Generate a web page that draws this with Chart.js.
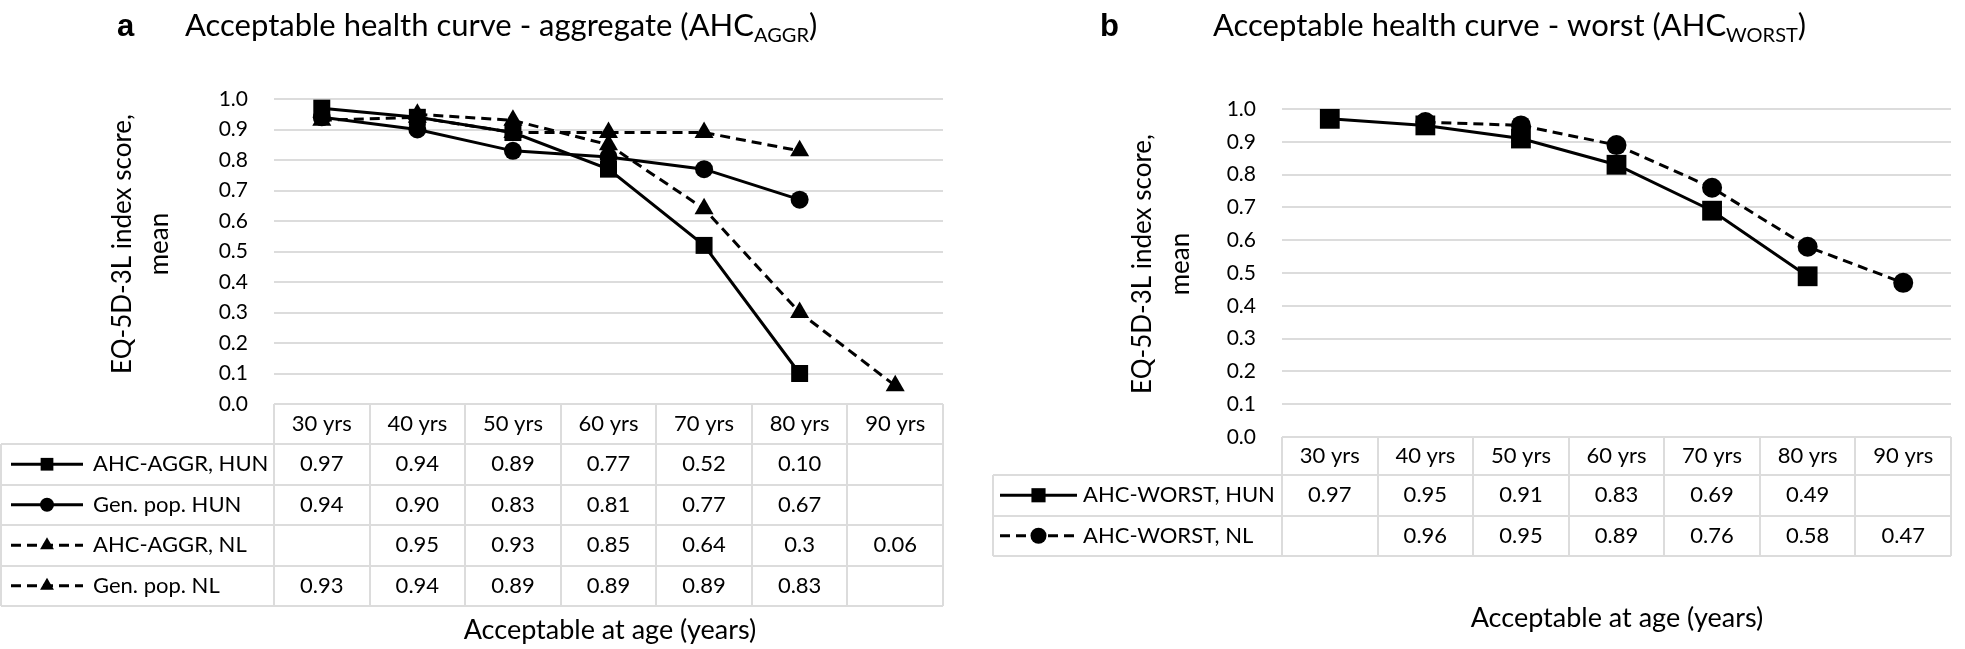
<!DOCTYPE html>
<html lang="en">
<head>
<meta charset="UTF-8">
<title>Acceptable health curves</title>
<script src="https://cdn.jsdelivr.net/npm/chart.js"></script>
<style>
  body { margin: 0; background: #fff; }
  #wrap { position: relative; width: 1965px; height: 649px; }
  #chartA { position: absolute; left: 0; top: 0; }
  #chartB { position: absolute; left: 980px; top: 0; }
</style>
</head>
<body>
<div id="wrap">
  <canvas id="chartA" width="980" height="649"></canvas>
  <canvas id="chartB" width="985" height="649"></canvas>
</div>

<script>
    // categories
    const ages = ['30 yrs', '40 yrs', '50 yrs', '60 yrs', '70 yrs', '80 yrs', '90 yrs'];

    // panel a - values kept as printed in the data table
    const aggrHun   = ['0.97', '0.94', '0.89', '0.77', '0.52', '0.10', null];
    const genPopHun = ['0.94', '0.90', '0.83', '0.81', '0.77', '0.67', null];
    const aggrNl    = [null, '0.95', '0.93', '0.85', '0.64', '0.3', '0.06'];
    const genPopNl  = ['0.93', '0.94', '0.89', '0.89', '0.89', '0.83', null];

    // panel b
    const worstHun = ['0.97', '0.95', '0.91', '0.83', '0.69', '0.49', null];
    const worstNl  = [null, '0.96', '0.95', '0.89', '0.76', '0.58', '0.47'];

    const FONT = 'Lato';
    const GRID = '#dcdcdc';
    const dash = [10, 6];

    function series(label, data, style, radius, dashed) {
        return {
            label: label,
            data: data,
            borderColor: '#000',
            backgroundColor: '#000',
            borderWidth: 3,
            borderDash: dashed ? dash : [],
            pointStyle: style,
            pointRadius: radius,
            pointBorderWidth: 0,
            pointBackgroundColor: '#000',
            tension: 0,
            clip: false
        };
    }

    // draws title, axis titles and the data table under the plot
    const panelPlugin = {
        id: 'panel',
        afterDraw(chart, args, o) {
            const ctx = chart.ctx;
            const area = chart.chartArea;
            const labels = chart.data.labels;
            const n = labels.length;
            const colW = (area.right - area.left) / n;
            const sets = chart.data.datasets;

            ctx.save();
            ctx.fillStyle = '#000';

            // panel letter + title
            ctx.textBaseline = 'alphabetic';
            ctx.textAlign = 'left';
            ctx.font = 'bold 31px "Liberation Sans"';
            ctx.fillText(o.letter, o.letterX, 36);
            ctx.font = '31px ' + FONT;
            ctx.fillText(o.title, o.titleX, 36);
            let w = ctx.measureText(o.title).width;
            ctx.font = '20px ' + FONT;
            ctx.fillText(o.sub, o.titleX + w, 42);
            let w2 = ctx.measureText(o.sub).width;
            ctx.font = '31px ' + FONT;
            ctx.fillText(')', o.titleX + w + w2, 36);

            // y axis title, two lines, rotated
            ctx.save();
            ctx.font = '26px ' + FONT;
            ctx.textAlign = 'center';
            ctx.textBaseline = 'middle';
            ctx.translate(o.yTitleX, o.yTitleY);
            ctx.rotate(-Math.PI / 2);
            ctx.fillText('EQ-5D-3L index score,', 0, -o.yTitleGap / 2);
            ctx.fillText('mean', 0, o.yTitleGap / 2);
            ctx.restore();

            // x axis title
            ctx.font = '27px ' + FONT;
            ctx.textAlign = 'center';
            ctx.textBaseline = 'middle';
            ctx.fillText('Acceptable at age (years)', o.xTitleX, o.xTitleY);

            // table
            const top = area.bottom;
            const rowsTop = top + o.headerH;
            const bottom = rowsTop + sets.length * o.rowH;
            ctx.strokeStyle = GRID;
            ctx.lineWidth = 2;
            ctx.beginPath();
            for (let k = 0; k <= n; k++) {
                const xx = Math.round(area.left + k * colW);
                ctx.moveTo(xx, top);
                ctx.lineTo(xx, bottom);
            }
            for (let r = 0; r <= sets.length; r++) {
                const yy = Math.round(rowsTop + r * o.rowH);
                ctx.moveTo(o.tableLeft, yy);
                ctx.lineTo(area.right, yy);
            }
            ctx.moveTo(o.tableLeft, rowsTop);
            ctx.lineTo(o.tableLeft, bottom);
            ctx.stroke();

            ctx.font = '22px ' + FONT;
            ctx.fillStyle = '#000';
            ctx.textAlign = 'center';
            ctx.textBaseline = 'middle';
            const xs = chart.scales.x;
            labels.forEach((lab, i) => {
                ctx.fillText(lab, xs.getPixelForValue(i), top + o.headerH / 2);
            });

            sets.forEach((ds, r) => {
                const cy = rowsTop + r * o.rowH + o.rowH / 2;
                // legend key
                ctx.save();
                ctx.strokeStyle = '#000';
                ctx.lineWidth = 3;
                ctx.setLineDash(ds.borderDash);
                ctx.beginPath();
                ctx.moveTo(o.keyX0, cy);
                ctx.lineTo(o.keyX1, cy);
                ctx.stroke();
                ctx.restore();
                ctx.fillStyle = '#000';
                Chart.helpers.drawPoint(ctx, {
                    pointStyle: ds.pointStyle,
                    radius: o.keyRadius[ds.pointStyle],
                    rotation: 0,
                    borderWidth: 0
                }, (o.keyX0 + o.keyX1) / 2, cy);
                ctx.fillStyle = '#000';
                ctx.font = '22px ' + FONT;
                ctx.textAlign = 'left';
                ctx.fillText(ds.label, o.keyTextX, cy);
                // values
                ctx.textAlign = 'center';
                ds.data.forEach((v, i) => {
                    if (v !== null) ctx.fillText(v, xs.getPixelForValue(i), cy);
                });
            });
            ctx.restore();
        }
    };

    function makeChart(id, datasets, pad, yWidth, panel) {
        return new Chart(document.getElementById(id), {
            type: 'line',
            data: { labels: ages, datasets: datasets },
            options: {
                responsive: false,
                animation: false,
                layout: { padding: pad },
                plugins: {
                    legend: { display: false },
                    tooltip: { enabled: false },
                    panel: panel
                },
                scales: {
                    x: {
                        type: 'category',
                        offset: true,
                        display: false
                    },
                    y: {
                        min: 0,
                        max: 1,
                        border: { display: false },
                        grid: { color: GRID, lineWidth: 2, drawTicks: false },
                        ticks: {
                            stepSize: 0.1,
                            padding: 26,
                            color: '#000',
                            font: { family: FONT, size: 21 },
                            callback: v => v.toFixed(1)
                        },
                        afterFit: s => { s.width = yWidth; }
                    }
                }
            },
            plugins: [panelPlugin]
        });
    }

    makeChart('chartA', [
        series('AHC-AGGR, HUN', aggrHun, 'rect', 12, false),
        series('Gen. pop. HUN', genPopHun, 'circle', 9, false),
        series('AHC-AGGR, NL', aggrNl, 'triangle', 11, true),
        series('Gen. pop. NL', genPopNl, 'triangle', 11, true)
    ], { left: 0, right: 37, top: 99, bottom: 245 }, 274, {
        letter: 'a', letterX: 117, title: 'Acceptable health curve - aggregate (AHC',
        titleX: 185, sub: 'AGGR',
        yTitleX: 141, yTitleY: 244, yTitleGap: 37,
        xTitleX: 610, xTitleY: 630,
        headerH: 40, rowH: 40.5, tableLeft: 1,
        keyX0: 11, keyX1: 83, keyTextX: 93,
        keyRadius: { rect: 9, circle: 7, triangle: 8 }
    });

    makeChart('chartB', [
        series('AHC-WORST, HUN', worstHun, 'rect', 14, false),
        series('AHC-WORST, NL', worstNl, 'circle', 10, true)
    ], { left: 0, right: 1, top: 109, bottom: 212 }, 302, {
        letter: 'b', letterX: 120, title: 'Acceptable health curve - worst (AHC',
        titleX: 233, sub: 'WORST',
        yTitleX: 182, yTitleY: 264, yTitleGap: 38,
        xTitleX: 637, xTitleY: 618,
        headerH: 38, rowH: 40.5, tableLeft: 13,
        keyX0: 20, keyX1: 97, keyTextX: 103,
        keyRadius: { rect: 10, circle: 8, triangle: 8 }
    });
</script>
</body>
</html>
